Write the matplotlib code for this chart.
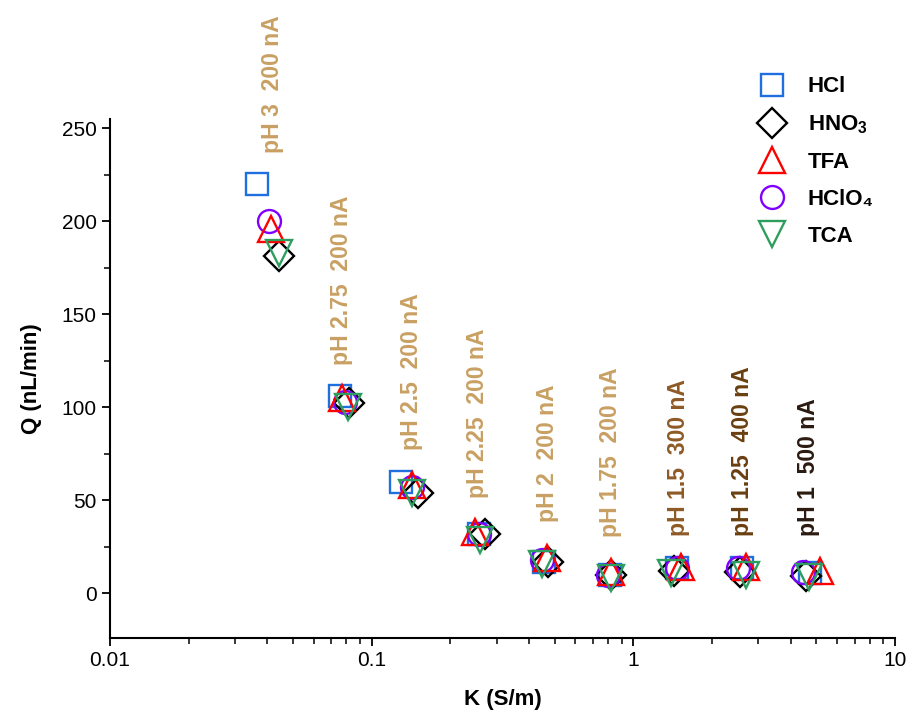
import numpy as np
import matplotlib
matplotlib.use("Agg")
import matplotlib.pyplot as plt
from matplotlib.ticker import FixedLocator, NullFormatter

plt.rcParams['font.family'] = ['Liberation Sans', 'DejaVu Sans']
plt.rcParams['mathtext.fontset'] = 'custom'
plt.rcParams['mathtext.rm'] = 'Liberation Sans'
plt.rcParams['mathtext.bf'] = 'Liberation Sans:bold'

# conductivity K (S/m) and flow rate Q (nL/min), one value per pH step
k_hcl = [0.0366, 0.0754, 0.129, 0.257, 0.455, 0.81, 1.47, 2.6, 4.74]
q_hcl = [220, 106, 59.5, 32, 17, 10, 13.4, 13.4, 10.7]

k_hno3 = [0.0444, 0.082, 0.150, 0.270, 0.47, 0.824, 1.43, 2.56, 4.57]
q_hno3 = [181, 102, 54, 31.7, 16.7, 9.7, 12, 11.5, 9]

k_tfa = [0.0414, 0.077, 0.142, 0.249, 0.466, 0.824, 1.52, 2.70, 5.18]
q_tfa = [196, 105, 58, 33, 18.8, 11.3, 14, 14, 11.8]

k_hclo4 = [0.0404, 0.079, 0.142, 0.257, 0.446, 0.80, 1.46, 2.50, 4.46]
q_hclo4 = [200, 103, 57, 32, 18, 9.7, 13.4, 13.4, 11.3]

k_tca = [0.0441, 0.081, 0.143, 0.26, 0.449, 0.82, 1.39, 2.70, 4.7]
q_tca = [183, 100, 54, 28.5, 15.6, 8, 10.7, 9.6, 8.6]

# condition labels
cond_labels = ['pH 3  200 nA', 'pH 2.75  200 nA', 'pH 2.5  200 nA', 'pH 2.25  200 nA',
               'pH 2  200 nA', 'pH 1.75  200 nA', 'pH 1.5  300 nA', 'pH 1.25  400 nA',
               'pH 1  500 nA']
cond_x = [0.0418, 0.0767, 0.1423, 0.2545, 0.469, 0.8143, 1.491, 2.62, 4.67]
cond_y = [236.6, 122.6, 76.9, 51, 38, 30, 31, 31, 31]
tan = '#c9a063'
cond_colors = [tan, tan, tan, tan, tan, tan, '#8e5a26', '#6a3f10', '#2a1a10']

fig = plt.figure(figsize=(9.08, 7.24), dpi=100)
ax = fig.add_axes([0.121, 0.119, 0.865, 0.717])

mew = 1.7
ax.plot(k_hcl, q_hcl, ls='none', marker='s', ms=16, mfc='none', mec='#1f6fe0', mew=mew, label='HCl')
ax.plot(k_hno3, q_hno3, ls='none', marker='D', ms=15.5, mfc='none', mec='black', mew=mew,
        label=r'HNO$_\mathbf{3}$')
ax.plot(k_hclo4, q_hclo4, ls='none', marker='o', ms=16.5, mfc='none', mec='#8000ff', mew=mew,
        label='HClO\u2084')
ax.plot(k_tfa, q_tfa, ls='none', marker='^', ms=19, mfc='none', mec='#ff0000', mew=mew, label='TFA')
ax.plot(k_tca, q_tca, ls='none', marker='v', ms=19, mfc='none', mec='#2e9e5e', mew=mew, label='TCA')

for lab, x, y, c in zip(cond_labels, cond_x, cond_y, cond_colors):
    ax.text(x, y, lab, rotation=90, ha='center', va='bottom', color=c,
            fontsize=16.6, fontweight='bold', clip_on=False)

ax.set_xscale('log')
ax.set_xlim(0.01, 10)
ax.set_ylim(-24, 255)
ax.set_xticks([0.01, 0.1, 1, 10])
ax.set_xticklabels(['0.01', '0.1', '1', '10'])
ax.set_yticks([0, 50, 100, 150, 200, 250])
ax.yaxis.set_minor_locator(FixedLocator([25, 75, 125, 175, 225]))
ax.xaxis.set_minor_formatter(NullFormatter())

for s in ['top', 'right']:
    ax.spines[s].set_visible(False)
for s in ['left', 'bottom']:
    ax.spines[s].set_linewidth(1.5)
ax.tick_params(which='major', direction='out', length=6, width=1.3, labelsize=15)
ax.tick_params(which='minor', direction='out', length=4, width=1.1)

ax.set_xlabel('K (S/m)', fontsize=16, fontweight='bold', labelpad=14)
ax.set_ylabel('Q (nL/min)', fontsize=16, fontweight='bold', labelpad=14)

h, l = ax.get_legend_handles_labels()
order = [0, 1, 3, 2, 4]
ax.legend([h[i] for i in order], [l[i] for i in order], loc='upper left',
          bbox_to_anchor=(0.81, 0.922), bbox_transform=fig.transFigure,
          frameon=False, numpoints=1, prop={'size': 16, 'weight': 'bold'},
          labelspacing=0.72, handletextpad=0.85, handlelength=1.5)

fig.savefig('out.png', dpi=100)
